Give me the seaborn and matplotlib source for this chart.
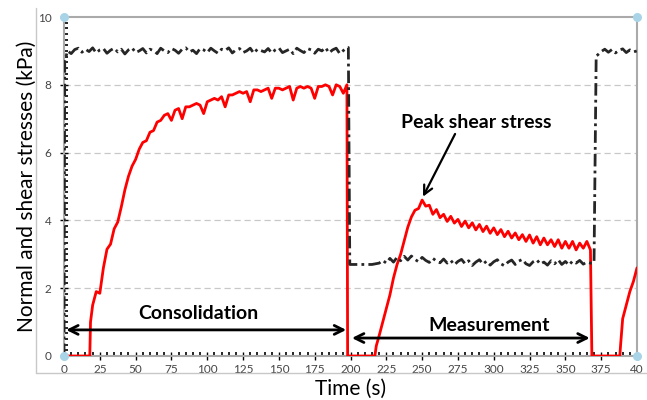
import numpy as np
import pandas as pd
import matplotlib
matplotlib.use("Agg")
import matplotlib.pyplot as plt
from matplotlib.ticker import MultipleLocator
from matplotlib.lines import Line2D
import seaborn as sns

# ---------------- data ----------------
# Normal stress (black, dash-dot)
normal_start_t = [0, 0.5, 1.5]
normal_start_v = [0.0, 8.70, 8.85]
normal_cons_v = [9.00, 8.92, 9.04, 9.08, 8.96, 9.05, 8.98, 9.09, 8.94, 9.03,
                 9.07, 8.93, 9.02, 9.08, 8.97, 9.05, 8.91, 9.03, 9.09, 8.95,
                 9.00, 9.07, 8.94, 9.05, 9.01, 8.92, 9.08, 9.00, 8.95, 9.07,
                 9.02, 8.93, 9.05, 9.09, 8.97, 9.02, 8.92, 9.07, 9.03, 8.95,
                 9.08, 9.00, 8.93, 9.05, 9.01, 9.09, 8.94, 9.03, 9.07, 8.95,
                 9.00, 9.08, 8.93, 9.05, 9.01, 8.97, 9.07, 8.94, 9.03, 9.09,
                 8.95, 9.00, 9.05, 8.92, 9.08, 9.01, 8.95, 9.07, 9.03, 8.93,
                 9.05, 9.00, 9.10, 8.94, 9.03, 9.08, 8.92, 9.01, 9.10]
normal_drop_t = [198.5, 199.5]
normal_drop_v = [9.10, 2.70]
normal_meas_v = [2.70, 2.70, 2.70, 2.70, 2.70, 2.70, 2.70, 2.72, 2.74,
                 2.82, 2.74, 2.88, 2.77, 2.91, 2.81, 2.94, 2.83, 2.95, 2.85,
                 2.78, 2.91, 2.82, 2.76, 2.88, 2.80, 2.75, 2.86,
                 2.74, 2.82, 2.69, 2.79, 2.85, 2.72, 2.81, 2.67, 2.77, 2.84,
                 2.71, 2.80, 2.68, 2.78, 2.84, 2.72, 2.66, 2.77, 2.83, 2.70,
                 2.80, 2.85, 2.72, 2.67, 2.78, 2.84, 2.71, 2.77, 2.68, 2.81,
                 2.72, 2.84, 2.70, 2.79, 2.68, 2.80, 2.74, 2.82, 2.71, 2.77,
                 2.74]
normal_rise_t = [370.0, 371.5]
normal_rise_v = [2.75, 8.85]
normal_end_v = [8.88, 8.98, 9.05, 8.96, 9.04, 8.94, 9.02, 9.06, 8.95, 9.03,
                8.97, 9.00]

# Shear stress (red, solid)
shear_start_t = [0, 18.0, 18.5]
shear_start_v = [0.0, 0.0, 1.0]
shear_cons_v = [1.5, 1.9, 1.85, 2.6, 3.15, 3.3, 3.75, 3.95, 4.4, 4.9,
                5.3, 5.6, 5.8, 6.1, 6.3, 6.35, 6.6, 6.65, 6.9, 6.95,
                7.1, 7.15, 6.95, 7.25, 7.3, 7.0, 7.35, 7.35, 7.4, 7.45,
                7.4, 7.15, 7.5, 7.55, 7.6, 7.55, 7.65, 7.35, 7.7, 7.7,
                7.75, 7.8, 7.75, 7.8, 7.5, 7.85, 7.85, 7.8, 7.85, 7.9,
                7.6, 7.9, 7.9, 7.85, 7.9, 7.95, 7.55, 7.9, 7.95, 7.9,
                7.95, 7.9, 7.6, 7.95, 7.95, 8.0, 7.95, 7.7, 8.0, 7.95,
                7.75, 8.0]
shear_rest1_t = [198.0, 217.0, 218.0]
shear_rest1_v = [0.0, 0.0, 0.3]
shear_meas_v = [0.6, 1.0, 1.4, 1.8, 2.3, 2.7, 3.0, 3.4, 3.8, 4.1,
                4.3, 4.35, 4.6, 4.42, 4.45, 4.18, 4.32, 4.08, 4.18, 3.97,
                4.12, 3.92, 4.03, 3.82, 3.98, 3.78, 3.93, 3.72, 3.88, 3.67,
                3.83, 3.62, 3.78, 3.58, 3.73, 3.52, 3.68, 3.48, 3.63, 3.43,
                3.58, 3.38, 3.57, 3.33, 3.52, 3.28, 3.48, 3.28, 3.43, 3.23,
                3.43, 3.18, 3.38, 3.18, 3.38, 3.13, 3.33, 3.18, 3.38, 3.13]
shear_rest2_t = [368.5, 388.0, 388.5, 390.0, 392.5, 395.0, 397.5, 400.0]
shear_rest2_v = [0.0, 0.0, 0.3, 1.1, 1.5, 1.9, 2.2, 2.6]

x_ticks = [0, 25, 50, 75, 100, 125, 150, 175, 200, 225, 250, 275, 300, 325, 350, 375, 400]
x_tick_labels = ["0", "25", "50", "75", "100", "125", "150", "175", "200", "225",
                 "250", "275", "300", "325", "350", "375", "40"]
y_ticks = [0, 2, 4, 6, 8, 10]

# ---------------- assemble series ----------------
normal_t = np.concatenate([
    normal_start_t,
    np.linspace(2.5, 197.5, len(normal_cons_v)),
    normal_drop_t,
    np.linspace(200.0, 367.5, len(normal_meas_v)),
    normal_rise_t,
    np.linspace(372.5, 400.0, len(normal_end_v)),
])
normal_v = np.concatenate([normal_start_v, normal_cons_v, normal_drop_v,
                           normal_meas_v, normal_rise_v, normal_end_v])
shear_t = np.concatenate([
    shear_start_t,
    np.linspace(20.0, 197.5, len(shear_cons_v)),
    shear_rest1_t,
    np.linspace(220.0, 367.5, len(shear_meas_v)),
    shear_rest2_t,
])
shear_v = np.concatenate([shear_start_v, shear_cons_v, shear_rest1_v,
                          shear_meas_v, shear_rest2_v])
df_n = pd.DataFrame({"t": normal_t, "v": normal_v})
df_s = pd.DataFrame({"t": shear_t, "v": shear_v})

# ---------------- figure ----------------
sns.set_theme(style="white")
plt.rcParams["font.family"] = ["Lato", "DejaVu Sans"]

fig = plt.figure(figsize=(6.47, 4.0), dpi=100)
W, H = 647, 400
ax = fig.add_axes([64 / W, 44 / H, 573 / W, 339 / H])

for y in [2, 4, 6, 8]:
    ax.axhline(y, color="#c8c8c8", lw=0.9, ls=(0, (5, 3)), zorder=0)

sns.lineplot(data=df_s, x="t", y="v", sort=False, estimator=None, ax=ax,
             color="#ff0000", lw=2.0, zorder=3)
sns.lineplot(data=df_n, x="t", y="v", sort=False, estimator=None, ax=ax,
             color="#262626", lw=2.0, zorder=4, dashes=False)
ax.lines[-1].set_linestyle((0, (4.5, 1.5, 1, 1.5)))

ax.set_xlim(0, 400)
ax.set_ylim(0, 10)
ax.set_xticks(x_ticks)
ax.set_xticklabels(x_tick_labels)
ax.set_yticks(y_ticks)
ax.xaxis.set_minor_locator(MultipleLocator(5))
ax.yaxis.set_minor_locator(MultipleLocator(2 / 12))
ax.tick_params(axis="both", which="major", direction="inout", length=6, width=1,
               color="black", labelsize=8.5, labelcolor="#444444", pad=3)
ax.tick_params(axis="both", which="minor", direction="in", length=3, width=1.2,
               color="black")
ax.tick_params(axis="y", which="major", pad=6)
ax.tick_params(bottom=True, left=True, which="both")

for side in ["top", "right", "left", "bottom"]:
    ax.spines[side].set_visible(True)
    ax.spines[side].set_color("#aaaaaa")
    ax.spines[side].set_linewidth(1.5)

ax.set_xlabel("Time (s)", fontsize=15, color="black", labelpad=2.5)
ax.set_ylabel("Normal and shear stresses (kPa)", fontsize=15, color="black", labelpad=1)

# corner markers
ax.scatter([0, 1, 0, 1], [0, 0, 1, 1], transform=ax.transAxes, s=30,
           color="#a9d4e8", edgecolor="#a9d4e8", zorder=6, clip_on=False)

# annotations
arrow_kw = dict(arrowstyle="<->", lw=2, color="black", mutation_scale=16,
                shrinkA=0, shrinkB=0)
ax.annotate("", xy=(1.5, 0.77), xytext=(197, 0.77), arrowprops=arrow_kw, zorder=5)
ax.text(93.5, 1.24, "Consolidation", ha="center", va="center",
        fontsize=14, fontweight="bold", color="black")
ax.annotate("", xy=(201, 0.53), xytext=(367, 0.53), arrowprops=arrow_kw, zorder=5)
ax.text(297, 0.9, "Measurement", ha="center", va="center",
        fontsize=14, fontweight="bold", color="black")
ax.annotate("", xy=(250.6, 4.7), xytext=(273, 6.55),
            arrowprops=dict(arrowstyle="->", lw=1.6, color="black",
                            mutation_scale=16, shrinkA=0, shrinkB=0))
ax.text(287.5, 6.9, "Peak shear stress", ha="center", va="center",
        fontsize=14, fontweight="bold", color="black")

# outer L-shaped border
fig.add_artist(Line2D([36 / W, 36 / W], [1 - 8 / H, 1 - 373 / H], color="#c8c8c8", lw=1))
fig.add_artist(Line2D([36 / W, 1], [1 - 373 / H, 1 - 373 / H], color="#c8c8c8", lw=1))

fig.savefig("out.png", dpi=100)
